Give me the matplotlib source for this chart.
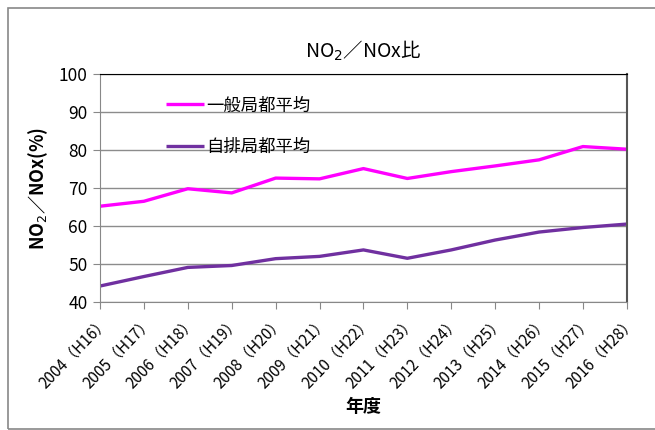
import numpy as np
import matplotlib.pyplot as plt
from matplotlib.patches import Rectangle

plt.rcParams['font.family'] = ['Noto Sans CJK JP', 'DejaVu Sans']

# 年度ラベル
years = ['2004', '2005', '2006', '2007', '2008', '2009', '2010',
         '2011', '2012', '2013', '2014', '2015', '2016']
heisei = ['H16', 'H17', 'H18', 'H19', 'H20', 'H21', 'H22',
          'H23', 'H24', 'H25', 'H26', 'H27', 'H28']
tick_labels = [f'{y}（{h}）' for y, h in zip(years, heisei)]

# NO2/NOx 比 (%)
ippan = [65.2, 66.5, 69.8, 68.7, 72.6, 72.4, 75.1, 72.5, 74.3, 75.8, 77.4, 80.9, 80.2]
jihai = [44.2, 46.7, 49.1, 49.6, 51.4, 52.0, 53.7, 51.5, 53.7, 56.3, 58.4, 59.6, 60.5]

fig = plt.figure(figsize=(6.55, 4.3), dpi=100)
ax = fig.add_axes([0.1527, 0.2977, 0.8043, 0.5303])

x = np.arange(len(years))
ax.plot(x, ippan, color='#FF00FF', lw=2.4, label='一般局都平均', solid_capstyle='butt')
ax.plot(x, jihai, color='#7030A0', lw=2.4, label='自排局都平均', solid_capstyle='butt')

ax.set_xlim(0, len(years) - 1)
ax.set_ylim(40, 100)
ax.set_yticks(np.arange(40, 101, 10))
ax.set_xticks(x)
ax.set_xticklabels(tick_labels, rotation=46, ha='right', va='top',
                   rotation_mode='anchor', fontsize=11)
ax.tick_params(axis='y', labelsize=12.5, length=5, color='#888888', pad=4)
ax.tick_params(axis='x', length=5, color='#888888', pad=3)
ax.grid(axis='y', color='#8c8c8c', lw=1)
ax.set_axisbelow(True)
for s in ['left', 'bottom']:
    ax.spines[s].set_color('#888888')
ax.spines['top'].set_color('#000000')
ax.spines['right'].set_color('#555555')
ax.spines['right'].set_linewidth(1.5)

ax.set_title('NO$_2$／NOx比', fontsize=14, pad=12)
ax.set_ylabel('NO$_2$／NOx(%)', fontsize=13, fontweight='bold', labelpad=6)
ax.set_xlabel('年度', fontsize=13, fontweight='bold', labelpad=4)

ax.legend(loc='upper left', bbox_to_anchor=(0.095, 0.97), frameon=False,
          fontsize=12.5, handlelength=2.2, handletextpad=0.15, labelspacing=1.35)

# 外枠
fig.patches.append(Rectangle((8 / 655, 1 / 430), 1.0, 1 - 9 / 430,
                             transform=fig.transFigure, fill=False,
                             edgecolor='#888888', lw=1.2))

fig.savefig('out.png', dpi=100)
